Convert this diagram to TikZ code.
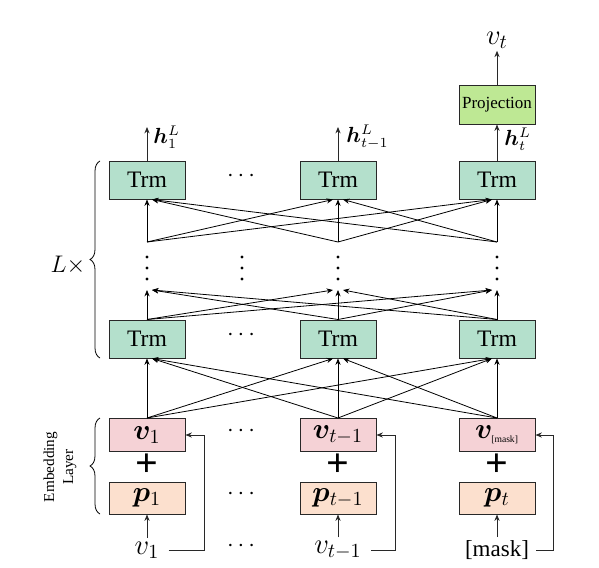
\documentclass[tikz,border=0pt]{standalone}
\usepackage[no-math]{fontspec}
\setmainfont{Liberation Serif}
\usepackage{bm}
\usetikzlibrary{arrows.meta,decorations.pathreplacing,calc}
\definecolor{trmfill}{RGB}{180,224,204}
\definecolor{projfill}{RGB}{190,232,148}
\definecolor{vfill}{RGB}{245,210,214}
\definecolor{pfill}{RGB}{252,224,206}
\definecolor{edgecol}{RGB}{40,40,40}
\tikzset{
  trm/.style={draw=edgecol,fill=trmfill,minimum width=38pt,minimum height=19pt,inner sep=0pt,line width=0.5pt,font=\fontsize{11.8}{14}\selectfont},
  projbox/.style={draw=edgecol,fill=projfill,minimum width=38pt,minimum height=19pt,inner sep=0pt,line width=0.5pt,font=\fontsize{8.5}{10}\selectfont},
  embv/.style={draw=edgecol,fill=vfill,minimum width=38pt,minimum height=16.5pt,inner sep=0pt,line width=0.5pt,font=\fontsize{14}{16}\selectfont},
  embp/.style={draw=edgecol,fill=pfill,minimum width=38pt,minimum height=16pt,inner sep=0pt,line width=0.5pt,font=\fontsize{14}{16}\selectfont},
  arr/.style={-{Stealth[length=3.2pt,width=2.6pt]},line width=0.45pt,draw=edgecol},
  fan/.style={-{Stealth[length=3.2pt,width=2.6pt]},line width=0.4pt,draw=black},
  inp/.style={font=\fontsize{14}{16}\selectfont,inner sep=1.5pt},
  dotsnode/.style={font=\fontsize{12}{14}\selectfont},
  hlab/.style={anchor=west,inner sep=0pt,font=\fontsize{10.5}{12}\selectfont},
  plus/.style={font=\fontsize{20}{22}\selectfont\bfseries,inner sep=0pt,text height=10pt,text depth=0pt}
}
\begin{document}
\begin{tikzpicture}[x=0.5pt,y=-0.5pt]
\useasboundingbox (0,0) rectangle (599,567);
% top Trm row
\node[trm] (tA1) at (147,180) {Trm};
\node[trm] (tA2) at (338,180) {Trm};
\node[trm] (tA3) at (497,180) {Trm};
\node[dotsnode] (dA) at (241,176) {$\cdots$};
% bottom Trm row
\node[trm] (tB1) at (147,339) {Trm};
\node[trm] (tB2) at (338,339) {Trm};
\node[trm] (tB3) at (497,339) {Trm};
\node[dotsnode] (dB) at (241,335) {$\cdots$};
% projection
\node[projbox] (proj) at (497,105) {Projection};
\node[font=\fontsize{14}{16}\selectfont,inner sep=1pt] (vt) at (497,40) {$v_t$};
\draw[arr] (proj) -- (vt);
% h outputs
\coordinate (h1) at (147,127);
\coordinate (h2) at (338,127);
\draw[arr] (tA1) -- (h1);
\draw[arr] (tA2) -- (h2);
\draw[arr] (tA3) -- (proj);
\node[hlab] (hl1) at (153,137) {$\bm{h}^L_1$};
\node[hlab] (hl2) at (346,137) {$\bm{h}^L_{t-1}$};
\node[hlab] (hl3) at (504,139) {$\bm{h}^L_t$};
% embedding
\node[embv] (ev1) at (147,435) {$\bm{v}_1$};
\node[embv] (ev2) at (338,435) {$\bm{v}_{t-1}$};
\node[embv] (ev3) at (497,435) {$\bm{v}_{\mbox{\fontsize{4.8}{5}\selectfont[mask]}}$};
\node[embp] (ep1) at (147,498) {$\bm{p}_1$};
\node[embp] (ep2) at (338,498) {$\bm{p}_{t-1}$};
\node[embp] (ep3) at (497,498) {$\bm{p}_t$};
\node[dotsnode] (dv) at (241,431) {$\cdots$};
\node[dotsnode] (dp) at (241,494) {$\cdots$};
\node[plus] (pl1) at (147,466) {+};
\node[plus] (pl2) at (338,466) {+};
\node[plus] (pl3) at (497,466) {+};
% inputs
\node[inp] (in1) at (147,550) {$v_1$};
\node[inp] (in2) at (338,550) {$v_{t-1}$};
\node[inp,font=\fontsize{11.5}{14}\selectfont] (in3) at (497,550) {[mask]};
\node[dotsnode] (di) at (241,546) {$\cdots$};
\draw[arr] (in1) -- (ep1);
\draw[arr] (in2) -- (ep2);
\draw[arr] (in3) -- (ep3);
\coordinate (f1) at (204,435);
\coordinate (f2) at (395,435);
\coordinate (f3) at (553,435);
\draw[arr] ([xshift=3pt]in1.east) -| (f1) -- (ev1.east);
\draw[arr] ([xshift=3pt]in2.east) -| (f2) -- (ev2.east);
\draw[arr] ([xshift=2pt]in3.east) -| (f3) -- (ev3.east);
% fan: embedding -> bottom Trm
\foreach \s/\t/\sh in {1/1/0,2/1/2.5,3/1/2.5,1/2/-2.5,2/2/0,3/2/2.5,1/3/-2.5,2/3/-2.5,3/3/0}{
  \draw[fan] (ev\s.north) -- ([xshift=\sh pt]tB\t.south);
}
% fan: bottom Trm -> middle
\coordinate (m1) at (147,290);
\coordinate (m2) at (338,290);
\coordinate (m3) at (497,290);
\foreach \s/\t/\sh in {1/1/0,2/1/2.5,3/1/2.5,1/2/-2.5,2/2/0,3/2/2.5,1/3/-2.5,2/3/-2.5,3/3/0}{
  \draw[fan] (tB\s.north) -- ([xshift=\sh pt]m\t);
}
% fan: middle -> top Trm
\coordinate (s1) at (147,242);
\coordinate (s2) at (338,242);
\coordinate (s3) at (497,242);
\foreach \s/\t/\sh in {1/1/0,2/1/2.5,3/1/2.5,1/2/-2.5,2/2/0,3/2/2.5,1/3/-2.5,2/3/-2.5,3/3/0}{
  \draw[fan] (s\s) -- ([xshift=\sh pt]tA\t.south);
}
% vertical dots
\foreach \x in {147,242,338,497}{
  \foreach \y in {257,268,279}{
    \fill (\x,\y) circle[radius=0.8pt];
  }
}
% braces
\draw[decorate,decoration={brace,amplitude=5pt},line width=0.4pt] (100,358) -- (100,161);
\node[font=\fontsize{12.5}{14}\selectfont] (Lx) at (68,265) {$L\times$};
\draw[decorate,decoration={brace,amplitude=5pt},line width=0.4pt] (100,514) -- (100,418);
\node[rotate=90,align=center,font=\fontsize{7.6}{9.5}\selectfont] (embl) at (60,467) {Embedding\\Layer};
\end{tikzpicture}
\end{document}
